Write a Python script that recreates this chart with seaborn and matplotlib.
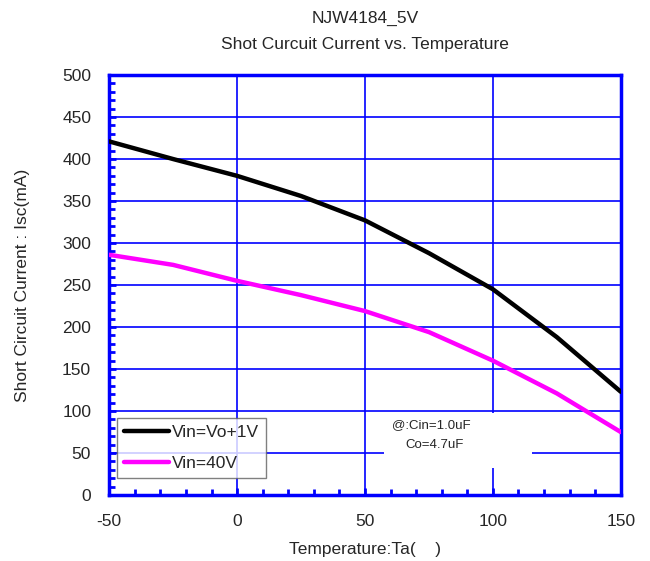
import matplotlib
matplotlib.use('Agg')
import matplotlib.pyplot as plt
import pandas as pd
import seaborn as sns
from matplotlib.patches import Rectangle
from matplotlib.ticker import MultipleLocator

# Data
temps = [-50, -25, 0, 25, 50, 75, 100, 125, 150]
isc_vo1 = [421, 400, 380, 356, 327, 288, 245, 188, 123]
isc_40v = [286, 274, 255, 238, 219, 194, 160, 121, 75]
series_names = ['Vin=Vo+1V', 'Vin=40V']

df = pd.DataFrame({'Ta': temps * 2,
                   'Isc': isc_vo1 + isc_40v,
                   'cond': [series_names[0]] * len(temps) + [series_names[1]] * len(temps)})

sns.set_style('white')
plt.rcParams['font.family'] = ['Liberation Sans', 'DejaVu Sans']
plt.rcParams['axes.unicode_minus'] = False

fig = plt.figure(figsize=(6.5, 5.61), dpi=100)
ax = fig.add_axes([0.168, 0.1176, 0.787, 0.7486])

blue = '#0000ff'
fs = 12.5
sns.lineplot(data=df, x='Ta', y='Isc', hue='cond', palette=['black', '#ff00ff'],
             linewidth=3.2, ax=ax, legend=True, zorder=3)

ax.set_xlim(-50, 150)
ax.set_ylim(0, 500)
ax.xaxis.set_major_locator(MultipleLocator(50))
ax.xaxis.set_minor_locator(MultipleLocator(10))
ax.yaxis.set_major_locator(MultipleLocator(50))
ax.yaxis.set_minor_locator(MultipleLocator(10))
ax.grid(True, which='major', color=blue, linewidth=1.2)
ax.tick_params(which='both', direction='in', color=blue, labelsize=fs, bottom=True, left=True)
ax.tick_params(which='major', length=5, width=2)
ax.tick_params(axis='x', which='major', pad=14)
ax.tick_params(axis='y', which='major', pad=13)
ax.tick_params(which='minor', length=4, width=2)
for s in ax.spines.values():
    s.set_color(blue)
    s.set_linewidth(2.5)

ax.set_xlabel('Temperature:Ta(    )', fontsize=fs, labelpad=9)
ax.set_ylabel('Short Circuit Current : Isc(mA)', fontsize=fs, labelpad=23)
ax.set_title('NJW4184_5V\nShot Curcuit Current vs. Temperature', fontsize=fs,
             pad=19, linespacing=1.9)

leg = ax.legend(loc='lower left', bbox_to_anchor=(0.015, 0.04), fontsize=fs, frameon=True,
                fancybox=False, edgecolor='#606060', handlelength=2.6, handletextpad=0.15,
                borderpad=0.4, labelspacing=0.95, borderaxespad=0)
leg.get_frame().set_linewidth(1)
for line in leg.get_lines():
    line.set_linewidth(3.2)
leg.set_zorder(5)

# white note box that hides the grid behind it
ax.add_patch(Rectangle((0.537, 0.064), 0.289, 0.131, transform=ax.transAxes,
                       facecolor='white', edgecolor='none', zorder=2.5))
ax.text(0.553, 0.166, '@:Cin=1.0uF', transform=ax.transAxes, fontsize=9.5,
        va='center', ha='left', zorder=4)
ax.text(0.578, 0.12, 'Co=4.7uF', transform=ax.transAxes, fontsize=9.5,
        va='center', ha='left', zorder=4)

fig.savefig('out.png', dpi=100)
